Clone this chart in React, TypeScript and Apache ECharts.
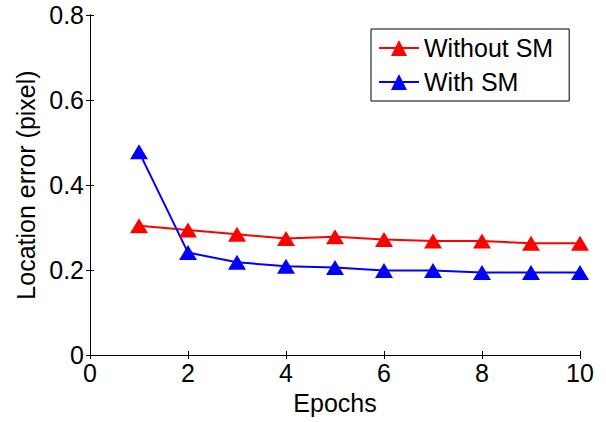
import React, { useEffect, useRef } from "react";
import * as echarts from "echarts";

const epochs = [1, 2, 3, 4, 5, 6, 7, 8, 9, 10];
const withoutSM = [0.304, 0.294, 0.284, 0.274, 0.278, 0.272, 0.268, 0.268, 0.263, 0.263];
const withSM = [0.478, 0.241, 0.218, 0.209, 0.206, 0.199, 0.199, 0.194, 0.194, 0.194];
const seriesNames = ["Without SM", "With SM"];
const FONT = "Liberation Sans, Arial, Helvetica, sans-serif";

export default function App() {
  const ref = useRef<HTMLDivElement>(null);
  useEffect(() => {
    if (!ref.current) return;
    const chart = echarts.init(ref.current, undefined, { renderer: "svg" });
    const axisCommon = {
      axisLine: { show: true, lineStyle: { color: "#000", width: 1 } },
      axisTick: { show: true, inside: true, length: 4, lineStyle: { color: "#000" } },
      splitLine: { show: false },
    };
    chart.setOption({
      animation: false,
      backgroundColor: "#fff",
      textStyle: { fontFamily: FONT },
      grid: { left: 90, right: 26, top: 15, bottom: 67, containLabel: false },
      legend: {
        orient: "vertical",
        left: 371,
        top: 29,
        padding: [5, 16, 5, 7],
        itemGap: 6,
        itemWidth: 40,
        itemHeight: 20,
        itemTextGap: 5,
        borderColor: "#000",
        borderWidth: 1,
        borderRadius: 0,
        backgroundColor: "#fff",
        textStyle: { fontSize: 25, lineHeight: 28, color: "#000", fontFamily: FONT },
        data: seriesNames,
      },
      xAxis: [
        {
          type: "value",
          min: 0,
          max: 10,
          interval: 2,
          name: "Epochs",
          nameLocation: "middle",
          nameGap: 35,
          nameTextStyle: { fontSize: 25, color: "#000", fontFamily: FONT },
          axisLabel: { fontSize: 25, color: "#000", margin: 5, fontFamily: FONT },
          ...axisCommon,
        },
        {
          type: "value",
          position: "top",
          min: 0,
          max: 10,
          interval: 2,
          axisLabel: { show: false },
          ...axisCommon,
        },
      ],
      yAxis: [
        {
          type: "value",
          min: 0,
          max: 0.8,
          interval: 0.2,
          name: "Location error (pixel)",
          nameLocation: "middle",
          nameGap: 51,
          nameTextStyle: { fontSize: 25, color: "#000", fontFamily: FONT },
          axisLabel: { fontSize: 25, color: "#000", margin: 6, fontFamily: FONT },
          ...axisCommon,
        },
        {
          type: "value",
          position: "right",
          min: 0,
          max: 0.8,
          interval: 0.2,
          axisLabel: { show: false },
          ...axisCommon,
        },
      ],
      series: [
        {
          name: seriesNames[0],
          type: "line",
          data: epochs.map((e, i) => [e, withoutSM[i]]),
          symbol: "triangle",
          symbolSize: [18, 15],
          lineStyle: { color: "#ff0000", width: 2 },
          itemStyle: { color: "#ff0000" },
        },
        {
          name: seriesNames[1],
          type: "line",
          data: epochs.map((e, i) => [e, withSM[i]]),
          symbol: "triangle",
          symbolSize: [18, 15],
          lineStyle: { color: "#0000ff", width: 2 },
          itemStyle: { color: "#0000ff" },
        },
      ],
    });
    return () => chart.dispose();
  }, []);
  return (
    <div
      ref={ref}
      style={{ position: "absolute", left: 0, top: 0, width: 606, height: 422 }}
    />
  );
}
